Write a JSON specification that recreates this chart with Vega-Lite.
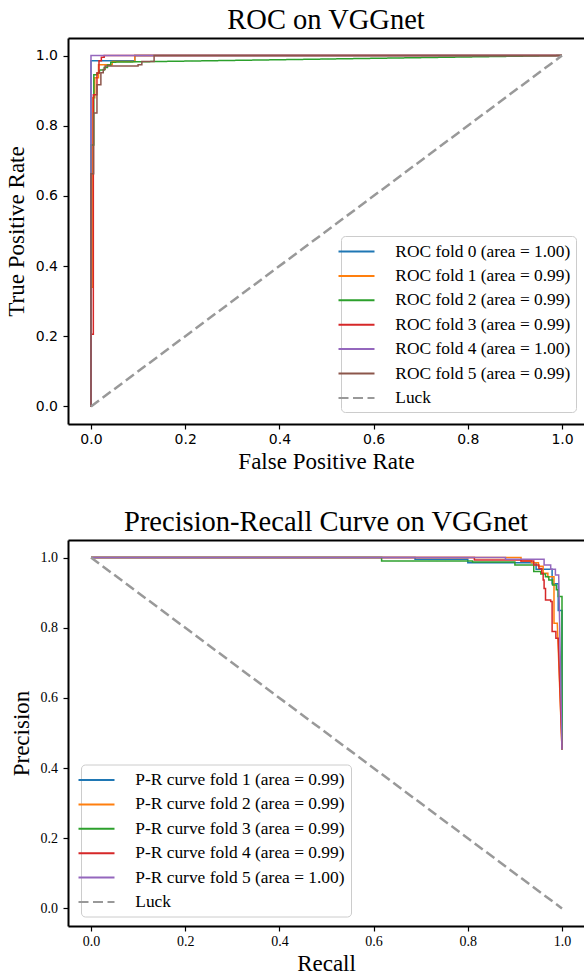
{
"$schema": "https://vega.github.io/schema/vega-lite/v6.json",
"padding": {"left": 5, "top": 5, "right": 0, "bottom": 0},
"spacing": 33,
"resolve": {"scale": {"color": "independent", "strokeDash": "independent"}, "legend": {"color": "independent", "strokeDash": "independent"}},
"config": {
  "view": {"stroke": null},
  "axis": {"domainColor": "black", "domainWidth": 2, "tickColor": "black", "tickWidth": 1.2, "tickSize": 5, "grid": false, "labelColor": "black", "labelFontSize": 14, "labelPadding": 4, "titleFont": "Liberation Serif", "titleFontSize": 23, "titleFontWeight": "normal", "titleColor": "black"},
  "title": {"font": "Liberation Serif", "fontSize": 28.5, "fontWeight": "normal", "color": "black", "anchor": "middle", "frame": "group", "baseline": "alphabetic", "offset": 4}
},
"datasets": {
  "roc": [
    {"s": "ROC fold 0 (area = 1.00)", "o": 0, "x": 0, "y": 0},
    {"s": "ROC fold 0 (area = 1.00)", "o": 1, "x": 0, "y": 0.985},
    {"s": "ROC fold 0 (area = 1.00)", "o": 2, "x": 0.093, "y": 0.985},
    {"s": "ROC fold 0 (area = 1.00)", "o": 3, "x": 0.093, "y": 1},
    {"s": "ROC fold 0 (area = 1.00)", "o": 4, "x": 1, "y": 1},
    {"s": "ROC fold 1 (area = 0.99)", "o": 0, "x": 0, "y": 0},
    {"s": "ROC fold 1 (area = 0.99)", "o": 1, "x": 0, "y": 0.34},
    {"s": "ROC fold 1 (area = 0.99)", "o": 2, "x": 0.004, "y": 0.34},
    {"s": "ROC fold 1 (area = 0.99)", "o": 3, "x": 0.004, "y": 0.88},
    {"s": "ROC fold 1 (area = 0.99)", "o": 4, "x": 0.008, "y": 0.88},
    {"s": "ROC fold 1 (area = 0.99)", "o": 5, "x": 0.008, "y": 0.937},
    {"s": "ROC fold 1 (area = 0.99)", "o": 6, "x": 0.016, "y": 0.937},
    {"s": "ROC fold 1 (area = 0.99)", "o": 7, "x": 0.016, "y": 0.974},
    {"s": "ROC fold 1 (area = 0.99)", "o": 8, "x": 0.045, "y": 0.974},
    {"s": "ROC fold 1 (area = 0.99)", "o": 9, "x": 0.045, "y": 0.983},
    {"s": "ROC fold 1 (area = 0.99)", "o": 10, "x": 0.093, "y": 0.983},
    {"s": "ROC fold 1 (area = 0.99)", "o": 11, "x": 0.093, "y": 1},
    {"s": "ROC fold 1 (area = 0.99)", "o": 12, "x": 1, "y": 1},
    {"s": "ROC fold 2 (area = 0.99)", "o": 0, "x": 0, "y": 0},
    {"s": "ROC fold 2 (area = 0.99)", "o": 1, "x": 0, "y": 0.745},
    {"s": "ROC fold 2 (area = 0.99)", "o": 2, "x": 0.006, "y": 0.745},
    {"s": "ROC fold 2 (area = 0.99)", "o": 3, "x": 0.006, "y": 0.945},
    {"s": "ROC fold 2 (area = 0.99)", "o": 4, "x": 0.013, "y": 0.945},
    {"s": "ROC fold 2 (area = 0.99)", "o": 5, "x": 0.013, "y": 0.95},
    {"s": "ROC fold 2 (area = 0.99)", "o": 6, "x": 0.018, "y": 0.95},
    {"s": "ROC fold 2 (area = 0.99)", "o": 7, "x": 0.018, "y": 0.959},
    {"s": "ROC fold 2 (area = 0.99)", "o": 8, "x": 0.028, "y": 0.959},
    {"s": "ROC fold 2 (area = 0.99)", "o": 9, "x": 0.028, "y": 0.966},
    {"s": "ROC fold 2 (area = 0.99)", "o": 10, "x": 0.035, "y": 0.966},
    {"s": "ROC fold 2 (area = 0.99)", "o": 11, "x": 0.035, "y": 0.973},
    {"s": "ROC fold 2 (area = 0.99)", "o": 12, "x": 0.042, "y": 0.973},
    {"s": "ROC fold 2 (area = 0.99)", "o": 13, "x": 0.042, "y": 0.981},
    {"s": "ROC fold 2 (area = 0.99)", "o": 14, "x": 1, "y": 1},
    {"s": "ROC fold 3 (area = 0.99)", "o": 0, "x": 0, "y": 0},
    {"s": "ROC fold 3 (area = 0.99)", "o": 1, "x": 0, "y": 0.206},
    {"s": "ROC fold 3 (area = 0.99)", "o": 2, "x": 0.005, "y": 0.206},
    {"s": "ROC fold 3 (area = 0.99)", "o": 3, "x": 0.005, "y": 0.888},
    {"s": "ROC fold 3 (area = 0.99)", "o": 4, "x": 0.0127, "y": 0.888},
    {"s": "ROC fold 3 (area = 0.99)", "o": 5, "x": 0.0127, "y": 0.95},
    {"s": "ROC fold 3 (area = 0.99)", "o": 6, "x": 0.017, "y": 0.95},
    {"s": "ROC fold 3 (area = 0.99)", "o": 7, "x": 0.017, "y": 0.985},
    {"s": "ROC fold 3 (area = 0.99)", "o": 8, "x": 0.022, "y": 0.985},
    {"s": "ROC fold 3 (area = 0.99)", "o": 9, "x": 0.022, "y": 0.995},
    {"s": "ROC fold 3 (area = 0.99)", "o": 10, "x": 0.028, "y": 0.995},
    {"s": "ROC fold 3 (area = 0.99)", "o": 11, "x": 0.028, "y": 1},
    {"s": "ROC fold 3 (area = 0.99)", "o": 12, "x": 1, "y": 1},
    {"s": "ROC fold 4 (area = 1.00)", "o": 0, "x": 0, "y": 0},
    {"s": "ROC fold 4 (area = 1.00)", "o": 1, "x": 0, "y": 1},
    {"s": "ROC fold 4 (area = 1.00)", "o": 2, "x": 1, "y": 1},
    {"s": "ROC fold 5 (area = 0.99)", "o": 0, "x": 0, "y": 0},
    {"s": "ROC fold 5 (area = 0.99)", "o": 1, "x": 0, "y": 0.663},
    {"s": "ROC fold 5 (area = 0.99)", "o": 2, "x": 0.0057, "y": 0.663},
    {"s": "ROC fold 5 (area = 0.99)", "o": 3, "x": 0.0057, "y": 0.836},
    {"s": "ROC fold 5 (area = 0.99)", "o": 4, "x": 0.0127, "y": 0.836},
    {"s": "ROC fold 5 (area = 0.99)", "o": 5, "x": 0.0127, "y": 0.917},
    {"s": "ROC fold 5 (area = 0.99)", "o": 6, "x": 0.021, "y": 0.917},
    {"s": "ROC fold 5 (area = 0.99)", "o": 7, "x": 0.021, "y": 0.951},
    {"s": "ROC fold 5 (area = 0.99)", "o": 8, "x": 0.026, "y": 0.951},
    {"s": "ROC fold 5 (area = 0.99)", "o": 9, "x": 0.026, "y": 0.96},
    {"s": "ROC fold 5 (area = 0.99)", "o": 10, "x": 0.03, "y": 0.96},
    {"s": "ROC fold 5 (area = 0.99)", "o": 11, "x": 0.03, "y": 0.97},
    {"s": "ROC fold 5 (area = 0.99)", "o": 12, "x": 0.1, "y": 0.97},
    {"s": "ROC fold 5 (area = 0.99)", "o": 13, "x": 0.1, "y": 0.974},
    {"s": "ROC fold 5 (area = 0.99)", "o": 14, "x": 0.108, "y": 0.974},
    {"s": "ROC fold 5 (area = 0.99)", "o": 15, "x": 0.108, "y": 0.983},
    {"s": "ROC fold 5 (area = 0.99)", "o": 16, "x": 0.134, "y": 0.983},
    {"s": "ROC fold 5 (area = 0.99)", "o": 17, "x": 0.134, "y": 1},
    {"s": "ROC fold 5 (area = 0.99)", "o": 18, "x": 1, "y": 1},
    {"s": "Luck", "o": 0, "x": 0, "y": 0},
    {"s": "Luck", "o": 1, "x": 1, "y": 1}
  ],
  "pr": [
    {"s": "P-R curve fold 1 (area = 0.99)", "o": 0, "x": 0, "y": 1},
    {"s": "P-R curve fold 1 (area = 0.99)", "o": 1, "x": 0.688, "y": 1},
    {"s": "P-R curve fold 1 (area = 0.99)", "o": 2, "x": 0.688, "y": 0.995},
    {"s": "P-R curve fold 1 (area = 0.99)", "o": 3, "x": 0.8, "y": 0.995},
    {"s": "P-R curve fold 1 (area = 0.99)", "o": 4, "x": 0.8, "y": 0.985},
    {"s": "P-R curve fold 1 (area = 0.99)", "o": 5, "x": 0.945, "y": 0.985},
    {"s": "P-R curve fold 1 (area = 0.99)", "o": 6, "x": 0.945, "y": 0.967},
    {"s": "P-R curve fold 1 (area = 0.99)", "o": 7, "x": 0.979, "y": 0.967},
    {"s": "P-R curve fold 1 (area = 0.99)", "o": 8, "x": 0.979, "y": 0.925},
    {"s": "P-R curve fold 1 (area = 0.99)", "o": 9, "x": 0.992, "y": 0.925},
    {"s": "P-R curve fold 1 (area = 0.99)", "o": 10, "x": 0.992, "y": 0.849},
    {"s": "P-R curve fold 1 (area = 0.99)", "o": 11, "x": 1, "y": 0.849},
    {"s": "P-R curve fold 1 (area = 0.99)", "o": 12, "x": 1, "y": 0.453},
    {"s": "P-R curve fold 2 (area = 0.99)", "o": 0, "x": 0, "y": 1},
    {"s": "P-R curve fold 2 (area = 0.99)", "o": 1, "x": 0.913, "y": 1},
    {"s": "P-R curve fold 2 (area = 0.99)", "o": 2, "x": 0.913, "y": 0.99},
    {"s": "P-R curve fold 2 (area = 0.99)", "o": 3, "x": 0.935, "y": 0.99},
    {"s": "P-R curve fold 2 (area = 0.99)", "o": 4, "x": 0.935, "y": 0.985},
    {"s": "P-R curve fold 2 (area = 0.99)", "o": 5, "x": 0.95, "y": 0.985},
    {"s": "P-R curve fold 2 (area = 0.99)", "o": 6, "x": 0.95, "y": 0.975},
    {"s": "P-R curve fold 2 (area = 0.99)", "o": 7, "x": 0.96, "y": 0.975},
    {"s": "P-R curve fold 2 (area = 0.99)", "o": 8, "x": 0.96, "y": 0.955},
    {"s": "P-R curve fold 2 (area = 0.99)", "o": 9, "x": 0.97, "y": 0.955},
    {"s": "P-R curve fold 2 (area = 0.99)", "o": 10, "x": 0.97, "y": 0.945},
    {"s": "P-R curve fold 2 (area = 0.99)", "o": 11, "x": 0.983, "y": 0.945},
    {"s": "P-R curve fold 2 (area = 0.99)", "o": 12, "x": 0.983, "y": 0.813},
    {"s": "P-R curve fold 2 (area = 0.99)", "o": 13, "x": 0.99, "y": 0.813},
    {"s": "P-R curve fold 2 (area = 0.99)", "o": 14, "x": 1, "y": 0.453},
    {"s": "P-R curve fold 3 (area = 0.99)", "o": 0, "x": 0, "y": 1},
    {"s": "P-R curve fold 3 (area = 0.99)", "o": 1, "x": 0.617, "y": 1},
    {"s": "P-R curve fold 3 (area = 0.99)", "o": 2, "x": 0.617, "y": 0.99},
    {"s": "P-R curve fold 3 (area = 0.99)", "o": 3, "x": 0.81, "y": 0.99},
    {"s": "P-R curve fold 3 (area = 0.99)", "o": 4, "x": 0.81, "y": 0.987},
    {"s": "P-R curve fold 3 (area = 0.99)", "o": 5, "x": 0.9, "y": 0.987},
    {"s": "P-R curve fold 3 (area = 0.99)", "o": 6, "x": 0.9, "y": 0.979},
    {"s": "P-R curve fold 3 (area = 0.99)", "o": 7, "x": 0.94, "y": 0.979},
    {"s": "P-R curve fold 3 (area = 0.99)", "o": 8, "x": 0.94, "y": 0.96},
    {"s": "P-R curve fold 3 (area = 0.99)", "o": 9, "x": 0.955, "y": 0.96},
    {"s": "P-R curve fold 3 (area = 0.99)", "o": 10, "x": 0.955, "y": 0.953},
    {"s": "P-R curve fold 3 (area = 0.99)", "o": 11, "x": 0.965, "y": 0.953},
    {"s": "P-R curve fold 3 (area = 0.99)", "o": 12, "x": 0.965, "y": 0.945},
    {"s": "P-R curve fold 3 (area = 0.99)", "o": 13, "x": 0.972, "y": 0.945},
    {"s": "P-R curve fold 3 (area = 0.99)", "o": 14, "x": 0.972, "y": 0.936},
    {"s": "P-R curve fold 3 (area = 0.99)", "o": 15, "x": 0.98, "y": 0.936},
    {"s": "P-R curve fold 3 (area = 0.99)", "o": 16, "x": 0.98, "y": 0.922},
    {"s": "P-R curve fold 3 (area = 0.99)", "o": 17, "x": 0.988, "y": 0.922},
    {"s": "P-R curve fold 3 (area = 0.99)", "o": 18, "x": 0.988, "y": 0.908},
    {"s": "P-R curve fold 3 (area = 0.99)", "o": 19, "x": 0.992, "y": 0.908},
    {"s": "P-R curve fold 3 (area = 0.99)", "o": 20, "x": 0.992, "y": 0.889},
    {"s": "P-R curve fold 3 (area = 0.99)", "o": 21, "x": 1, "y": 0.889},
    {"s": "P-R curve fold 3 (area = 0.99)", "o": 22, "x": 1, "y": 0.453},
    {"s": "P-R curve fold 4 (area = 0.99)", "o": 0, "x": 0, "y": 1},
    {"s": "P-R curve fold 4 (area = 0.99)", "o": 1, "x": 0.814, "y": 1},
    {"s": "P-R curve fold 4 (area = 0.99)", "o": 2, "x": 0.814, "y": 0.993},
    {"s": "P-R curve fold 4 (area = 0.99)", "o": 3, "x": 0.913, "y": 0.993},
    {"s": "P-R curve fold 4 (area = 0.99)", "o": 4, "x": 0.913, "y": 0.99},
    {"s": "P-R curve fold 4 (area = 0.99)", "o": 5, "x": 0.94, "y": 0.99},
    {"s": "P-R curve fold 4 (area = 0.99)", "o": 6, "x": 0.94, "y": 0.979},
    {"s": "P-R curve fold 4 (area = 0.99)", "o": 7, "x": 0.951, "y": 0.979},
    {"s": "P-R curve fold 4 (area = 0.99)", "o": 8, "x": 0.951, "y": 0.969},
    {"s": "P-R curve fold 4 (area = 0.99)", "o": 9, "x": 0.957, "y": 0.969},
    {"s": "P-R curve fold 4 (area = 0.99)", "o": 10, "x": 0.957, "y": 0.955},
    {"s": "P-R curve fold 4 (area = 0.99)", "o": 11, "x": 0.96, "y": 0.955},
    {"s": "P-R curve fold 4 (area = 0.99)", "o": 12, "x": 0.96, "y": 0.936},
    {"s": "P-R curve fold 4 (area = 0.99)", "o": 13, "x": 0.962, "y": 0.936},
    {"s": "P-R curve fold 4 (area = 0.99)", "o": 14, "x": 0.962, "y": 0.912},
    {"s": "P-R curve fold 4 (area = 0.99)", "o": 15, "x": 0.965, "y": 0.912},
    {"s": "P-R curve fold 4 (area = 0.99)", "o": 16, "x": 0.965, "y": 0.879},
    {"s": "P-R curve fold 4 (area = 0.99)", "o": 17, "x": 0.976, "y": 0.879},
    {"s": "P-R curve fold 4 (area = 0.99)", "o": 18, "x": 0.976, "y": 0.875},
    {"s": "P-R curve fold 4 (area = 0.99)", "o": 19, "x": 0.979, "y": 0.875},
    {"s": "P-R curve fold 4 (area = 0.99)", "o": 20, "x": 0.979, "y": 0.789},
    {"s": "P-R curve fold 4 (area = 0.99)", "o": 21, "x": 0.987, "y": 0.789},
    {"s": "P-R curve fold 4 (area = 0.99)", "o": 22, "x": 0.987, "y": 0.77},
    {"s": "P-R curve fold 4 (area = 0.99)", "o": 23, "x": 0.992, "y": 0.77},
    {"s": "P-R curve fold 4 (area = 0.99)", "o": 24, "x": 1, "y": 0.453},
    {"s": "P-R curve fold 5 (area = 1.00)", "o": 0, "x": 0, "y": 1},
    {"s": "P-R curve fold 5 (area = 1.00)", "o": 1, "x": 0.88, "y": 1},
    {"s": "P-R curve fold 5 (area = 1.00)", "o": 2, "x": 0.88, "y": 0.995},
    {"s": "P-R curve fold 5 (area = 1.00)", "o": 3, "x": 0.962, "y": 0.995},
    {"s": "P-R curve fold 5 (area = 1.00)", "o": 4, "x": 0.962, "y": 0.979},
    {"s": "P-R curve fold 5 (area = 1.00)", "o": 5, "x": 0.976, "y": 0.979},
    {"s": "P-R curve fold 5 (area = 1.00)", "o": 6, "x": 0.976, "y": 0.967},
    {"s": "P-R curve fold 5 (area = 1.00)", "o": 7, "x": 0.986, "y": 0.967},
    {"s": "P-R curve fold 5 (area = 1.00)", "o": 8, "x": 0.986, "y": 0.95},
    {"s": "P-R curve fold 5 (area = 1.00)", "o": 9, "x": 0.993, "y": 0.95},
    {"s": "P-R curve fold 5 (area = 1.00)", "o": 10, "x": 1, "y": 0.453},
    {"s": "Luck", "o": 0, "x": 0, "y": 1},
    {"s": "Luck", "o": 1, "x": 1, "y": 0}
  ]
},
"vconcat": [
  {
    "width": 516, "height": 386,
    "title": {"text": "ROC on VGGnet"},
    "data": {"name": "roc"},
    "layer": [
      {
        "encoding": {
          "x": {"field": "x", "type": "quantitative", "scale": {"domain": [-0.0488, 1.0467], "nice": false, "zero": false}, "axis": {"values": [0, 0.2, 0.4, 0.6, 0.8, 1], "format": ".1f", "title": "False Positive Rate", "labelFont": "DejaVu Sans", "labelPadding": 3.5}},
          "y": {"field": "y", "type": "quantitative", "scale": {"domain": [-0.05, 1.05], "nice": false, "zero": false}, "axis": {"values": [0, 0.2, 0.4, 0.6, 0.8, 1], "format": ".1f", "title": "True Positive Rate", "labelFont": "DejaVu Sans", "labelPadding": 5.5, "titlePadding": 7}},
          "order": {"field": "o", "type": "quantitative"},
          "color": {"field": "s", "type": "nominal", "scale": {"domain": ["ROC fold 0 (area = 1.00)", "ROC fold 1 (area = 0.99)", "ROC fold 2 (area = 0.99)", "ROC fold 3 (area = 0.99)", "ROC fold 4 (area = 1.00)", "ROC fold 5 (area = 0.99)", "Luck"], "range": ["#1f77b4", "#ff7f0e", "#2ca02c", "#d62728", "#9467bd", "#8c564b", "#999999"]}, "legend": {"title": null, "orient": "none", "legendX": 273, "legendY": 198, "labelFont": "Liberation Serif", "labelFontSize": 17.4, "labelColor": "black", "labelLimit": 400, "labelOffset": 28.8, "symbolType": "M-2,0H2", "symbolSize": 324, "symbolStrokeWidth": 2, "fillColor": "rgba(255,255,255,0.8)", "strokeColor": "#cccccc", "cornerRadius": 4, "padding": 5.5, "rowPadding": 5.4}},
          "strokeDash": {"field": "s", "type": "nominal", "scale": {"domain": ["ROC fold 0 (area = 1.00)", "ROC fold 1 (area = 0.99)", "ROC fold 2 (area = 0.99)", "ROC fold 3 (area = 0.99)", "ROC fold 4 (area = 1.00)", "ROC fold 5 (area = 0.99)", "Luck"], "range": [[1, 0], [1, 0], [1, 0], [1, 0], [1, 0], [1, 0], [10, 4.5]]}, "legend": {"title": null, "orient": "none", "legendX": 273, "legendY": 198, "labelFont": "Liberation Serif", "labelFontSize": 17.4, "labelColor": "black", "labelLimit": 400, "labelOffset": 28.8, "symbolType": "M-2,0H2", "symbolSize": 324, "symbolStrokeWidth": 2, "fillColor": "rgba(255,255,255,0.8)", "strokeColor": "#cccccc", "cornerRadius": 4, "padding": 5.5, "rowPadding": 5.4}}
        },
        "layer": [
          {"transform": [{"filter": "datum.s != 'Luck'"}], "mark": {"type": "line", "strokeWidth": 1.5}},
          {"transform": [{"filter": "datum.s == 'Luck'"}], "mark": {"type": "line", "strokeWidth": 2.5}}
        ]
      },
      {
        "mark": {"type": "line", "strokeOpacity": 0},
        "encoding": {
          "x": {"field": "x", "type": "quantitative", "axis": {"orient": "top", "labels": false, "ticks": false, "title": null}},
          "y": {"field": "y", "type": "quantitative"},
          "detail": {"field": "s"}
        }
      }
    ],
    "resolve": {"axis": {"x": "independent"}}
  },
  {
    "width": 516, "height": 386,
    "title": {"text": "Precision-Recall Curve on VGGnet"},
    "data": {"name": "pr"},
    "layer": [
      {
        "encoding": {
          "x": {"field": "x", "type": "quantitative", "scale": {"domain": [-0.0488, 1.0467], "nice": false, "zero": false}, "axis": {"values": [0, 0.2, 0.4, 0.6, 0.8, 1], "format": ".1f", "title": "Recall", "labelFont": "Liberation Serif", "labelPadding": 3.5}},
          "y": {"field": "y", "type": "quantitative", "scale": {"domain": [-0.05, 1.05], "nice": false, "zero": false}, "axis": {"values": [0, 0.2, 0.4, 0.6, 0.8, 1], "format": ".1f", "title": "Precision", "labelFont": "Liberation Serif", "labelPadding": 5.5, "titlePadding": 7}},
          "order": {"field": "o", "type": "quantitative"},
          "color": {"field": "s", "type": "nominal", "scale": {"domain": ["P-R curve fold 1 (area = 0.99)", "P-R curve fold 2 (area = 0.99)", "P-R curve fold 3 (area = 0.99)", "P-R curve fold 4 (area = 0.99)", "P-R curve fold 5 (area = 1.00)", "Luck"], "range": ["#1f77b4", "#ff7f0e", "#2ca02c", "#d62728", "#9467bd", "#999999"]}, "legend": {"title": null, "orient": "none", "legendX": 13, "legendY": 224.5, "labelFont": "Liberation Serif", "labelFontSize": 17.4, "labelColor": "black", "labelLimit": 400, "labelOffset": 28.8, "symbolType": "M-2,0H2", "symbolSize": 324, "symbolStrokeWidth": 2, "fillColor": "rgba(255,255,255,0.8)", "strokeColor": "#cccccc", "cornerRadius": 4, "padding": 5.5, "rowPadding": 5.4}},
          "strokeDash": {"field": "s", "type": "nominal", "scale": {"domain": ["P-R curve fold 1 (area = 0.99)", "P-R curve fold 2 (area = 0.99)", "P-R curve fold 3 (area = 0.99)", "P-R curve fold 4 (area = 0.99)", "P-R curve fold 5 (area = 1.00)", "Luck"], "range": [[1, 0], [1, 0], [1, 0], [1, 0], [1, 0], [10, 4.5]]}, "legend": {"title": null, "orient": "none", "legendX": 13, "legendY": 224.5, "labelFont": "Liberation Serif", "labelFontSize": 17.4, "labelColor": "black", "labelLimit": 400, "labelOffset": 28.8, "symbolType": "M-2,0H2", "symbolSize": 324, "symbolStrokeWidth": 2, "fillColor": "rgba(255,255,255,0.8)", "strokeColor": "#cccccc", "cornerRadius": 4, "padding": 5.5, "rowPadding": 5.4}}
        },
        "layer": [
          {"transform": [{"filter": "datum.s != 'Luck'"}], "mark": {"type": "line", "strokeWidth": 1.5}},
          {"transform": [{"filter": "datum.s == 'Luck'"}], "mark": {"type": "line", "strokeWidth": 2.5}}
        ]
      },
      {
        "mark": {"type": "line", "strokeOpacity": 0},
        "encoding": {
          "x": {"field": "x", "type": "quantitative", "axis": {"orient": "top", "labels": false, "ticks": false, "title": null}},
          "y": {"field": "y", "type": "quantitative"},
          "detail": {"field": "s"}
        }
      }
    ],
    "resolve": {"axis": {"x": "independent"}}
  }
]
}
